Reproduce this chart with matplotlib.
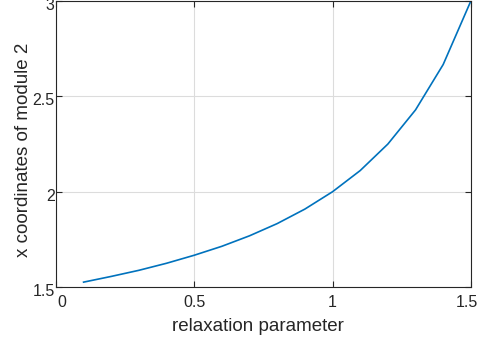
import matplotlib
matplotlib.use('Agg')
import matplotlib.pyplot as plt
import matplotlib.transforms as mtransforms

plt.rcParams['font.family'] = ['Liberation Sans', 'DejaVu Sans']

relax = [0.1, 0.2, 0.3, 0.4, 0.5, 0.6, 0.7, 0.8, 0.9, 1.0, 1.1, 1.2, 1.3, 1.4, 1.5]
xcoord = [1.526, 1.556, 1.588, 1.625, 1.667, 1.714, 1.769, 1.833, 1.909, 2.0,
          2.111, 2.25, 2.429, 2.667, 3.0]
xticks = [0, 0.5, 1, 1.5]
yticks = [1.5, 2, 2.5, 3]

fig = plt.figure(figsize=(4.78, 3.43), dpi=100)
ax = fig.add_axes([0.117, 0.163, 0.868, 0.834])

ax.plot(relax, xcoord, color=(0, 0.447, 0.741), lw=1.2)

ax.set_xlim(0, 1.5)
ax.set_ylim(1.5, 3)
ax.set_xticks(xticks)
ax.set_xticklabels(['0', '0.5', '1', '1.5'])
ax.set_yticks(yticks)
ax.set_yticklabels(['1.5', '2', '2.5', '3'])

ax.grid(True, color='#dcdcdc', lw=0.8)
ax.set_axisbelow(True)
for s in ax.spines.values():
    s.set_color('#262626')
    s.set_linewidth(0.8)
ax.tick_params(direction='in', top=True, right=True, length=4,
               labelsize=11.5, colors='#262626')
ax.tick_params(axis='x', pad=6)
ax.tick_params(axis='y', pad=1)

# nudge the end labels like the reference
xl = ax.get_xticklabels()
xl[0].set_transform(xl[0].get_transform() + mtransforms.ScaledTranslation(6/100, 0, fig.dpi_scale_trans))
xl[-1].set_transform(xl[-1].get_transform() + mtransforms.ScaledTranslation(-4/100, 0, fig.dpi_scale_trans))
for t in ax.get_yticklabels():
    t.set_transform(t.get_transform() + mtransforms.ScaledTranslation(0, -3/100, fig.dpi_scale_trans))

ax.set_xlabel('relaxation parameter', fontsize=13.5, color='#262626')
ax.set_ylabel('x coordinates of module 2', fontsize=13.5, color='#262626')
ax.xaxis.set_label_coords(0.488, -0.108)
ax.yaxis.set_label_coords(-0.058, 0.48)

fig.savefig('out.png', dpi=100)
